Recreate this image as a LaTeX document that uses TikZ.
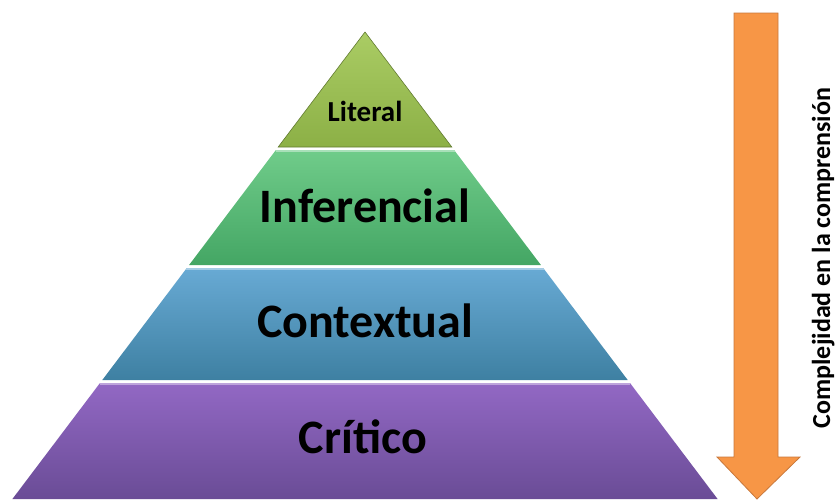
\documentclass[tikz,border=0pt]{standalone}
\usepackage{fontspec}
\setmainfont{Carlito}
\usetikzlibrary{calc,positioning}

\definecolor{litTop}{RGB}{170,204,100}
\definecolor{litBot}{RGB}{140,176,70}
\definecolor{infTop}{RGB}{112,204,138}
\definecolor{infBot}{RGB}{68,166,100}
\definecolor{conTop}{RGB}{104,170,212}
\definecolor{conBot}{RGB}{62,128,162}
\definecolor{criTop}{RGB}{146,104,196}
\definecolor{criBot}{RGB}{106,76,150}
\definecolor{arrowFill}{RGB}{247,150,70}
\definecolor{arrowLine}{RGB}{200,120,60}

\tikzset{
	level/.style={text=black, inner sep=0pt},
	big/.style={font=\bfseries\fontsize{48}{54}\selectfont},
}

\begin{document}
\begin{tikzpicture}[x=1pt,y=-1pt]
	\useasboundingbox (0,0) rectangle (838,499);
	
	%pyramid levels
	\shade[top color=litTop, bottom color=litBot, draw=litBot!70!black, line width=0.6pt]
		(365,32)--(451.8,147)--(278.2,147)--cycle;				%Literal
	\shade[top color=infTop, bottom color=infBot]
		(275.9,150)--(454.1,150)--(540.9,265)--(189.1,265)--cycle;	%Inferencial
	\shade[top color=conTop, bottom color=conBot]
		(186.8,268)--(543.2,268)--(627.7,380)--(102.3,380)--cycle;	%Contextual
	\shade[top color=criTop, bottom color=criBot]
		(100,383)--(630,383)--(717.6,499)--(12.4,499)--cycle;		%Critico
		%light top edges
		\draw[infTop!60!white, line width=1.5pt] (275.5,150.8)--(454.5,150.8);
		\draw[conTop!60!white, line width=1.5pt] (186.4,268.8)--(543.6,268.8);
		\draw[criTop!60!white, line width=1.5pt] (99.6,383.8)--(630.4,383.8);
	
	%level captions
	\node[level, font=\bfseries\fontsize{29}{33}\selectfont] (literal) at (365,111) {Literal};
	\node[level, big] (inferencial) at (365,206) {Inferencial};
	\node[level, big] (contextual) at (365,321) {Contextual};
	\node[level, big] (critico) at (363,437) {Crítico};
	
	%complexity arrow
	\fill[arrowFill, draw=arrowLine, line width=0.8pt]
		(734,13)--(778,13)--(778,457)--(800,457)--(757,499)--(717,457)--(734,457)--cycle;
	\node[level, rotate=90, anchor=base, font=\bfseries\fontsize{26}{30}\selectfont] (complejidad) at (830,258) {Complejidad en la comprensión};
	
	%\draw[help lines, step=50] (0,0) grid (838,499);
\end{tikzpicture}
\end{document}
